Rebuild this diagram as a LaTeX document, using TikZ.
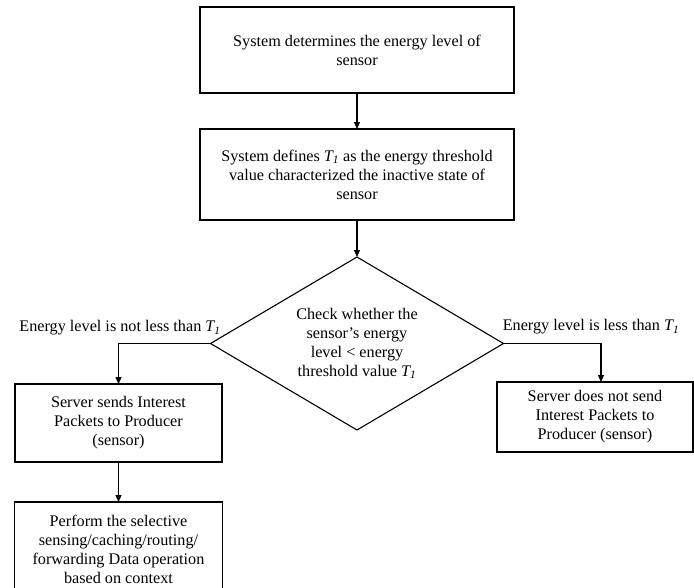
\documentclass[tikz,border=0pt]{standalone}
\usepackage{fontspec}
\setmainfont{Liberation Serif}
\usetikzlibrary{shapes.geometric,arrows.meta}

\newcommand{\Tone}{\textit{T\textsubscript{1}}}

\begin{document}
\begin{tikzpicture}[
  x=1pt,
  y=-1pt,
  every node/.style={inner sep=0pt, outer sep=0pt},
  txt/.style={font=\fontsize{16.2}{19}\selectfont, align=center},
  stepbox/.style={txt, draw, line width=1.1pt},
  checkbox/.style={txt, draw, line width=1.1pt, shape=diamond, aspect=1.69, minimum width=293, minimum height=173},
  flow/.style={draw, line width=1.1pt, -{Triangle[length=7pt,width=6pt]}}
]

  \path[use as bounding box] (0,0) rectangle (694,587);

  % Main steps
  \node[stepbox, minimum width=314, minimum height=86] (det) at (357,50)
    {System determines the energy level of\\sensor};
  \node[stepbox, minimum width=314, minimum height=91] (def) at (357,174.5)
    {System defines \Tone{} as the energy threshold\\value characterized the inactive state of\\sensor};

  % Decision
  \node[checkbox] (chk) at (357,343.5)
    {Check whether the\\sensor’s energy\\level < energy\\threshold value \Tone};

  % Branches
  \node[stepbox, minimum width=207, minimum height=78] (send) at (118.5,423)
    {Server sends Interest\\Packets to Producer\\(sensor)};
  \node[stepbox, minimum width=208, minimum height=95] (perf) at (118.5,549.5)
    {Perform the selective\\sensing/caching/routing/\\forwarding Data operation\\based on context};
  \node[stepbox, minimum width=196, minimum height=70] (nosend) at (595,417)
    {Server does not send\\Interest Packets to\\Producer (sensor)};

  \node[txt] (lblno) at (120,328) {Energy level is not less than \Tone};
  \node[txt] (lblyes) at (591,327) {Energy level is less than \Tone};

  % Arrows
  \draw[flow] (det.south) -- (def.north);
  \draw[flow] (def.south) -- (chk.north);
  \draw[flow] (chk.west) -| (send.north);
  \draw[flow] (chk.east) -| ([xshift=6]nosend.north);
  \draw[flow] (send.south) -- (perf.north);

\end{tikzpicture}
\end{document}
